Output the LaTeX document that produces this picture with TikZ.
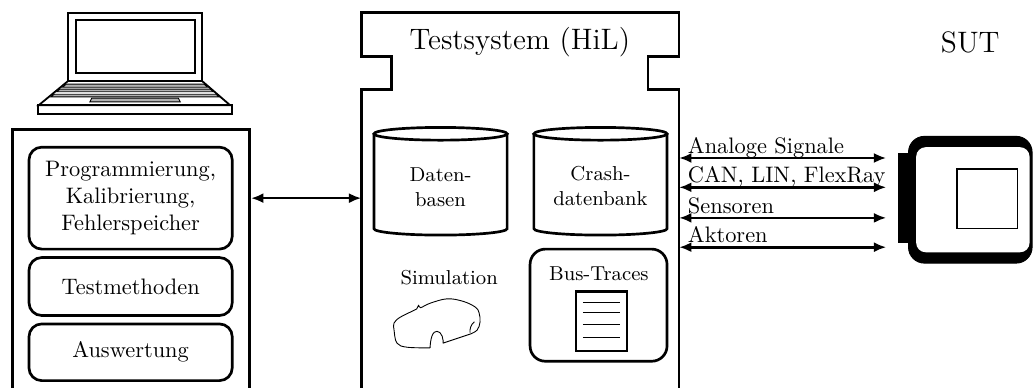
\documentclass[tikz,border=0pt]{standalone}
\usetikzlibrary{positioning,arrows.meta}
\begin{document}
\begin{tikzpicture}[node distance=0.09cm,
    module/.style={rectangle, draw, very thick, rounded corners=0.2cm, minimum width=3.19cm, align=center},
    signal/.style={{Latex[length=5.5pt,width=4.5pt]}-{Latex[length=5.5pt,width=4.5pt]}, very thick}]
    \useasboundingbox (0,0) rectangle (16.23,-6.09);

        % Laptop
        \draw[thick] (1.07,-0.20) rectangle (3.17,-1.27);
        \draw[thick] (1.19,-0.31) rectangle (3.06,-1.15);
        \draw[thick] (1.07,-1.27) -- (0.61,-1.65) -- (3.61,-1.65) -- (3.17,-1.27);
        \draw[fill=gray!60] (1.04,-1.32) -- (3.20,-1.32) -- (3.26,-1.37) -- (0.98,-1.37) -- cycle;
        \draw[fill=gray!60] (0.94,-1.40) -- (3.30,-1.40) -- (3.35,-1.44) -- (0.89,-1.44) -- cycle;
        \draw[fill=gray!60] (0.85,-1.48) -- (3.39,-1.48) -- (3.44,-1.52) -- (0.80,-1.52) -- cycle;
        \draw[fill=gray!60] (1.44,-1.54) -- (2.80,-1.54) -- (2.83,-1.60) -- (1.41,-1.60) -- cycle;
        \draw[thick] (0.60,-1.65) rectangle (3.64,-1.79);

        % PC
        \node[rectangle, draw, very thick, minimum width=3.72cm, minimum height=4.5cm] (pc) at (2.06,-4.28) {};
        \node[module, minimum height=1.6cm] (prog) at (2.05,-3.11) {Programmierung,\\Kalibrierung,\\Fehlerspeicher};
        \node[module, minimum height=0.91cm, below=of prog] (testm) {Testmethoden};
        \node[module, minimum height=0.89cm, below=of testm] (ausw) {Auswertung};

        % Testsystem
        \draw[very thick] (5.67,-6.4) -- (5.67,-1.40) -- (6.15,-1.40) -- (6.15,-0.89) -- (5.67,-0.89)
            -- (5.67,-0.20) -- (10.66,-0.20) -- (10.66,-0.89) -- (10.17,-0.89) -- (10.17,-1.40)
            -- (10.66,-1.40) -- (10.66,-6.4);
        \node[font=\fontsize{13.2}{16}\selectfont] (hil) at (8.16,-0.66) {Testsystem (HiL)};
        \coordinate (hilW) at (5.67,-3.11);

        % Datenbasen
        \draw[very thick] (5.87,-2.10) -- (5.87,-3.59) arc[start angle=180, end angle=360, x radius=1.045cm, y radius=0.10cm] -- (7.96,-2.10);
        \draw[very thick] (6.915,-2.10) ellipse[x radius=1.045cm, y radius=0.10cm];
        \node[font=\small, align=center] (db) at (6.915,-2.94) {Daten-\\basen};

        % Crashdatenbank
        \draw[very thick] (8.38,-2.10) -- (8.38,-3.59) arc[start angle=180, end angle=360, x radius=1.045cm, y radius=0.10cm] -- (10.47,-2.10);
        \draw[very thick] (9.425,-2.10) ellipse[x radius=1.045cm, y radius=0.10cm];
        \node[font=\small, align=center] (crash) at (9.425,-2.92) {Crash-\\datenbank};

        % Simulation
        \node[font=\small] (sim) at (7.05,-4.35) {Simulation};
        \draw[thin, line join=round] plot[smooth, tension=0.6] coordinates {(6.75,-5.46) (6.39,-5.45) (6.23,-5.385)
            (6.185,-5.18) (6.185,-5.07) (6.28,-4.98) (6.48,-4.88) (6.54,-4.85) (6.57,-4.79) (6.60,-4.83) (6.75,-4.76)
            (7.02,-4.69) (7.27,-4.73) (7.46,-4.82) (7.52,-4.91) (7.535,-5.055) (7.49,-5.18) (7.39,-5.24)}
            -- (6.955,-5.385) -- plot[smooth, tension=0.8] coordinates {(6.955,-5.385) (6.94,-5.275) (6.86,-5.20) (6.78,-5.275) (6.75,-5.46)};
        \draw[thin] (7.446,-5.05) .. controls (7.39,-5.09) and (7.37,-5.17) .. (7.378,-5.22);

        % Bus-Traces
        \node[rectangle, draw, very thick, rounded corners=0.24cm, minimum width=2.15cm, minimum height=1.76cm] (bus) at (9.395,-4.79) {};
        \node[font=\small] (bustitle) at (9.40,-4.30) {Bus-Traces};
        \node[rectangle, draw, very thick, minimum width=0.80cm, minimum height=0.93cm] (doc) at (9.44,-5.045) {};
        \draw (9.15,-4.74) -- (9.73,-4.74);
        \draw (9.15,-4.91) -- (9.73,-4.91);
        \draw (9.15,-5.10) -- (9.73,-5.10);
        \draw (9.15,-5.29) -- (9.73,-5.29);

        % SUT
        \node[font=\fontsize{13.2}{16}\selectfont] (sutlabel) at (15.23,-0.66) {SUT};
        \node[rectangle, fill, inner sep=0, minimum width=0.16cm, minimum height=1.41cm] (plug) at (14.175,-3.105) {};
        \node[rectangle, draw, fill, rounded corners=0.25cm, minimum width=1.94cm, minimum height=1.99cm] (sut) at (15.23,-3.135) {};
        \node[rectangle, fill=white, rounded corners=0.15cm, minimum width=1.78cm, minimum height=1.65cm] (sutin) at (15.27,-3.135) {};
        \node[rectangle, draw, semithick, minimum width=0.95cm, minimum height=0.94cm] (ecu) at (15.495,-3.12) {};

        % Connections
        \draw[signal] (pc.east |- prog) -- (hilW);
        \coordinate (s1) at (10.66,-2.48); \coordinate (e1) at (13.91,-2.48);
        \coordinate (s2) at (10.66,-2.94); \coordinate (e2) at (13.91,-2.94);
        \coordinate (s3) at (10.66,-3.42); \coordinate (e3) at (13.91,-3.42);
        \coordinate (s4) at (10.66,-3.88); \coordinate (e4) at (13.91,-3.88);
        \draw[signal] (s1) -- (e1) node[pos=0, anchor=base west, yshift=0.075cm] {Analoge Signale};
        \draw[signal] (s2) -- (e2) node[pos=0, anchor=base west, yshift=0.075cm] {CAN, LIN, FlexRay};
        \draw[signal] (s3) -- (e3) node[pos=0, anchor=base west, yshift=0.075cm] {Sensoren};
        \draw[signal] (s4) -- (e4) node[pos=0, anchor=base west, yshift=0.075cm] {Aktoren};
    \end{tikzpicture}
\end{document}
